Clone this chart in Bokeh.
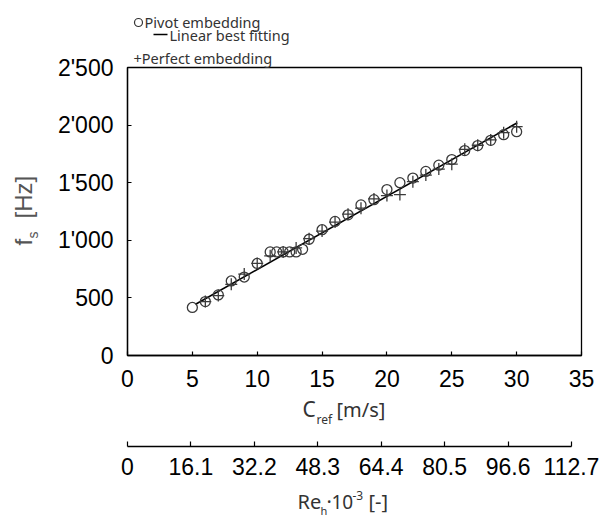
import math
from bokeh.plotting import figure
from bokeh.models import Range1d, FixedTicker, Title
from bokeh.core.properties import value
from bokeh.layouts import column, row
from bokeh.embed import file_html
from bokeh.resources import INLINE

# ---- data ----
pivot_c = [5, 6, 7, 8, 9, 10, 11, 11.5, 12, 12.5, 13, 13.5, 14, 15, 16, 17, 18, 19, 20,
           21, 22, 23, 24, 25, 26, 27, 28, 29, 30]
pivot_f = [417, 468, 526, 647, 681, 799, 899, 899, 899, 899, 899, 922, 1009, 1092, 1164,
           1221, 1307, 1353, 1440, 1500, 1540, 1598, 1652, 1701, 1779, 1822, 1868, 1917, 1943]
perfect_c = [6, 7, 8, 9, 10, 11, 12, 13, 14, 15, 16, 17, 18, 19, 20, 21, 22, 23, 24, 25,
             26, 27, 28, 29, 30]
perfect_f = [468, 520, 618, 707, 799, 865, 899, 934, 1014, 1080, 1158, 1227, 1279, 1359,
             1388, 1397, 1509, 1566, 1618, 1661, 1790, 1825, 1871, 1934, 1986]
fit_c = [5.25, 30.05]
fit_f = [445, 2020]

x_ticks = [0, 5, 10, 15, 20, 25, 30, 35]
y_ticks = [0, 500, 1000, 1500, 2000, 2500]
y_tick_labels = ["0", "500", "1'000", "1'500", "2'000", "2'500"]
re_ticks = [0, 16.1, 32.2, 48.3, 64.4, 80.5, 96.6, 112.7]
re_tick_labels = ["0", "16.1", "32.2", "48.3", "64.4", "80.5", "96.6", "112.7"]

TICK_FONT = "Liberation Sans"
TEXT_FONT = "Noto Sans"
TICK_SIZE = "23px"
MARK = "#3a3a3a"
TXT = "#333333"
YTXT = "#555555"
DESC = {"Noto Sans": 0.29, "Liberation Sans": 0.21}

# page-pixel geometry of the layout
L, R = 127, 33           # left / right borders shared by every strip
FRAME_X = (127, 581)


def blank(fig):
    fig.grid.visible = False
    fig.outline_line_color = None
    fig.background_fill_color = "white"
    fig.border_fill_color = "white"


def txt(fig, x, y, s, size, color=TXT, rotated=False, font=TEXT_FONT, **kw):
    """Place text with its alphabetic baseline at page pixel (x, y)."""
    shift = DESC[font] * size
    if rotated:
        x, y, angle = x - shift, y, math.pi / 2
    else:
        x, y, angle = x, y - shift, 0.0
    fig.text(x=[x], y=[y], text=[s], text_font=value(font),
             text_font_size=value(f"{size}px"), text_color=color, angle=angle,
             text_align="left", text_baseline="alphabetic", **kw)


def style_axis(ax, tick_in):
    ax.major_tick_in = tick_in
    ax.major_tick_out = 0
    ax.minor_tick_in = 0
    ax.minor_tick_out = 0
    ax.axis_line_color = "black"
    ax.axis_line_width = 1.3
    ax.major_tick_line_color = "black"
    ax.major_tick_line_width = 1.2
    ax.major_label_text_font = TICK_FONT
    ax.major_label_text_font_size = TICK_SIZE
    ax.major_label_text_color = "black"


def strip(height, y0):
    f = figure(width=614, height=height, output_backend="svg", toolbar_location=None,
               x_range=Range1d(*FRAME_X), y_range=Range1d(y0 + height, y0),
               x_axis_location=None, y_axis_location=None,
               min_border_left=L, min_border_right=R,
               min_border_top=0, min_border_bottom=0)
    blank(f)
    return f


# ---- legend strip (page y 0..45) ----
leg = strip(45, 0)
leg.scatter([138], [22], marker="circle", size=8, fill_color=None,
            line_color=TXT, line_width=1.2)
txt(leg, 144, 26, "Pivot embedding", 14.5)
leg.line([153, 167], [34, 34], line_color="black", line_width=1.5)
txt(leg, 169, 38.5, "Linear best fitting", 14.5)

# ---- y title strip (page x 0..45; frame aligned with main frame y 67..355) ----
yt = figure(width=45, height=350, output_backend="svg", toolbar_location=None,
            x_range=Range1d(0, 45), y_range=Range1d(355, 67),
            x_axis_location=None, y_axis_location=None,
            min_border_left=0, min_border_right=0,
            min_border_top=22, min_border_bottom=40)
blank(yt)
txt(yt, 28, 245, "f", 24, color=YTXT, rotated=True, font=TICK_FONT)
txt(yt, 35, 238, "s", 14, color=YTXT, rotated=True, font=TICK_FONT)
txt(yt, 28, 218, "[Hz]", 24, color=YTXT, rotated=True, font=TICK_FONT)

# ---- main figure (page x 45..614, y 45..395) ----
p = figure(width=569, height=350, output_backend="svg", toolbar_location=None,
           x_range=Range1d(0, 35), y_range=Range1d(0, 2500),
           min_border_left=82, min_border_right=R, min_border_top=22,
           min_border_bottom=40)
p.grid.visible = False
p.outline_line_color = "black"
p.outline_line_width = 1.3
p.background_fill_color = "white"
p.border_fill_color = "white"
style_axis(p.xaxis[0], 4)
style_axis(p.yaxis[0], 4)
p.xaxis.ticker = FixedTicker(ticks=x_ticks)
p.yaxis.ticker = FixedTicker(ticks=y_ticks)
p.yaxis.major_label_overrides = {t: s for t, s in zip(y_ticks, y_tick_labels)}
p.xaxis.major_label_standoff = 14
p.yaxis.major_label_standoff = 14

p.add_layout(Title(text="+Perfect embedding", align="left", offset=6,
                   text_font=TEXT_FONT, text_font_size="14.5px",
                   text_font_style="normal", text_color=TXT, standoff=0), "above")

p.line(fit_c, fit_f, line_color="black", line_width=1.6)
p.scatter(pivot_c, pivot_f, marker="circle", size=10, fill_color=None,
          line_color=MARK, line_width=1.3)
p.scatter(perfect_c, perfect_f, marker="cross", size=12,
          line_color=MARK, line_width=1.3)

# ---- middle: x title + Re_h axis (page y 395..482) ----
mid = figure(width=614, height=87, output_backend="svg", toolbar_location=None,
             x_range=Range1d(0, 115.24), y_range=Range1d(446, 395),
             y_axis_location=None,
             min_border_left=L, min_border_right=R, min_border_top=0,
             min_border_bottom=36)
blank(mid)
mid.extra_x_ranges = {"px": Range1d(*FRAME_X)}
ax2 = mid.xaxis[0]
style_axis(ax2, 5)
ax2.ticker = FixedTicker(ticks=re_ticks)
ax2.major_label_overrides = {t: s for t, s in zip(re_ticks, re_tick_labels)}
ax2.bounds = (0, 112.7)
ax2.major_label_standoff = 11

txt(mid, 302, 415, "C", 21, x_range_name="px")
txt(mid, 316, 422, "ref", 12, x_range_name="px")
txt(mid, 336, 415, "[m/s]", 20, x_range_name="px")

# ---- bottom: Re_h title (page y 482..518) ----
bot = strip(36, 482)
txt(bot, 297, 507, "Re", 20)
txt(bot, 320, 513, "h", 11)
txt(bot, 326, 507, "·", 20)
txt(bot, 331, 507, "10", 19)
txt(bot, 352, 498, "-3", 12)
txt(bot, 368, 507, "[-]", 20)

layout = column(leg, row(yt, p, spacing=0), mid, bot, spacing=0)
open("out.html", "w").write(file_html(layout, INLINE))
